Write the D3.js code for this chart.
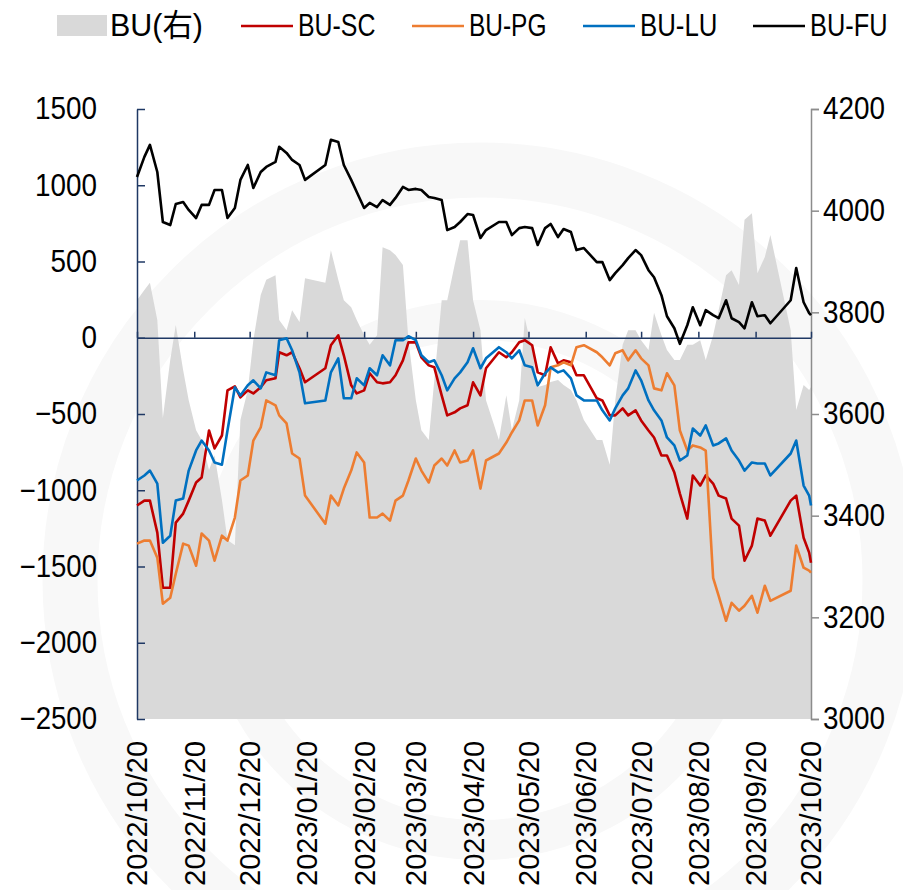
<!DOCTYPE html>
<html><head><meta charset="utf-8">
<script src="https://cdn.jsdelivr.net/npm/d3@7"></script>
<style>body{margin:0;background:#fff}svg{display:block}</style>
</head><body>
<svg id="c" width="903" height="890"></svg>
<script>
const dates = ["2022-10-20","2022-10-24","2022-10-27","2022-10-31","2022-11-03","2022-11-07","2022-11-10","2022-11-14","2022-11-17","2022-11-21","2022-11-24","2022-11-28","2022-12-01","2022-12-05","2022-12-08","2022-12-12","2022-12-15","2022-12-19","2022-12-22","2022-12-26","2022-12-29","2023-01-03","2023-01-05","2023-01-09","2023-01-12","2023-01-16","2023-01-19","2023-01-30","2023-02-02","2023-02-06","2023-02-09","2023-02-13","2023-02-16","2023-02-20","2023-02-23","2023-02-27","2023-03-02","2023-03-06","2023-03-09","2023-03-13","2023-03-16","2023-03-20","2023-03-23","2023-03-27","2023-03-30","2023-04-03","2023-04-06","2023-04-10","2023-04-13","2023-04-17","2023-04-20","2023-04-24","2023-04-27","2023-05-04","2023-05-08","2023-05-11","2023-05-15","2023-05-18","2023-05-22","2023-05-25","2023-05-29","2023-06-01","2023-06-05","2023-06-08","2023-06-12","2023-06-15","2023-06-19","2023-06-26","2023-06-29","2023-07-03","2023-07-06","2023-07-10","2023-07-13","2023-07-17","2023-07-20","2023-07-24","2023-07-27","2023-07-31","2023-08-03","2023-08-07","2023-08-10","2023-08-14","2023-08-17","2023-08-21","2023-08-24","2023-08-28","2023-08-31","2023-09-04","2023-09-07","2023-09-11","2023-09-14","2023-09-18","2023-09-21","2023-09-25","2023-09-28","2023-10-09","2023-10-12","2023-10-16","2023-10-19","2023-10-20"];

// BU price (right axis, area)
const buPrice = [3824,3844,3858,3785,3592,3706,3775,3686,3627,3568,
3549,3490,3519,3431,3352,3342,3588,3647,3745,3834,
3864,3873,3785,3765,3804,3781,3867,3858,3922,3864,
3824,3810,3785,3755,3736,3755,3928,3922,3913,3893,
3745,3627,3568,3549,3667,3824,3824,3893,3942,3942,
3824,3765,3627,3549,3637,3568,3627,3789,3726,3653,
3657,3663,3667,3657,3647,3627,3588,3549,3549,3500,
3627,3736,3765,3765,3745,3726,3799,3755,3726,3706,
3706,3736,3736,3745,3706,3755,3804,3873,3883,3854,
3982,3995,3877,3909,3952,3765,3608,3657,3647,3653];

const buSC = [-1100,-1068,-1068,-1278,-1639,-1639,-1212,-1153,-1068,-949,
-917,-608,-726,-641,-345,-319,-391,-345,-365,-325,
-279,-266,-95,-115,-95,-200,-292,-200,-49,16,
-115,-312,-365,-345,-233,-292,-299,-292,-246,-148,
-30,-30,-128,-181,-194,-378,-509,-489,-463,-443,
-292,-378,-200,-95,-128,-95,-30,-16,-49,-227,
-246,-62,-168,-148,-161,-246,-246,-397,-411,-509,
-509,-463,-509,-476,-542,-608,-654,-772,-772,-884,
-1022,-1186,-903,-969,-903,-956,-1035,-1054,-1186,-1232,
-1462,-1363,-1186,-1199,-1298,-1068,-1035,-1311,-1409,-1475];

const buPG = [-1350,-1330,-1330,-1442,-1744,-1705,-1547,-1350,-1363,-1495,
-1284,-1330,-1462,-1298,-1330,-1179,-936,-903,-674,-588,
-411,-443,-509,-562,-759,-792,-1035,-1219,-1035,-1100,
-989,-871,-752,-818,-1179,-1179,-1153,-1199,-1068,-1035,
-936,-792,-871,-949,-838,-792,-838,-739,-818,-805,
-739,-989,-805,-759,-687,-621,-542,-411,-411,-575,
-443,-194,-181,-161,-181,-62,-49,-95,-128,-181,
-102,-82,-148,-82,-135,-181,-332,-345,-233,-312,
-608,-739,-706,-719,-740,-1574,-1692,-1856,-1738,-1790,
-1757,-1692,-1803,-1626,-1725,-1659,-1363,-1508,-1527,-1541];

const buLU = [-936,-903,-871,-956,-1344,-1298,-1068,-1054,-871,-739,
-674,-739,-818,-832,-608,-325,-378,-312,-279,-332,
-227,-246,-16,-3,-82,-227,-430,-411,-227,-135,
-397,-397,-266,-312,-200,-246,-115,-181,-16,-16,
10,-16,-115,-161,-148,-246,-345,-266,-227,-161,
-69,-200,-135,-62,-95,-135,-82,-181,-194,-312,
-233,-194,-227,-214,-266,-378,-411,-411,-476,-542,
-463,-378,-332,-214,-279,-411,-476,-542,-654,-706,
-805,-772,-595,-641,-575,-706,-693,-660,-739,-805,
-871,-818,-825,-825,-903,-759,-674,-969,-1035,-1100];

const buFU = [1054,1186,1265,1087,759,739,877,890,838,785,
871,871,969,969,785,851,1035,1133,982,1087,
1120,1153,1252,1212,1166,1133,1035,1133,1298,1284,
1133,1035,956,851,884,857,903,871,917,989,
969,976,969,923,917,903,706,726,759,811,
805,654,706,759,759,673,719,726,719,608,
719,746,660,713,693,575,588,496,496,378,
424,476,522,575,542,443,397,279,141,62,
-40,82,200,82,181,148,128,246,128,102,
62,233,141,148,95,246,457,233,161,148];

const leftTicks = [-2500,-2000,-1500,-1000,-500,0,500,1000,1500];
const rightTicks = [3000,3200,3400,3600,3800,4000,4200];
const xTickLabels = ["2022/10/20","2022/11/20","2022/12/20","2023/01/20","2023/02/20","2023/03/20","2023/04/20","2023/05/20","2023/06/20","2023/07/20","2023/08/20","2023/09/20","2023/10/20"];

const lineSeries = [
  {name:"BU-SC", values: buSC, color:"#c00000"},
  {name:"BU-PG", values: buPG, color:"#ed7d31"},
  {name:"BU-LU", values: buLU, color:"#0070c0"},
  {name:"BU-FU", values: buFU, color:"#000000"}
];

const FONT = "'Liberation Sans', Arial, 'Noto Sans CJK SC', sans-serif";
const FS = 31;
function monoWidth(s, fs){let w=0;for(const ch of s){w += (ch.charCodeAt(0)>0x2e80)?fs:fs*0.5;}return w;}
// narrow half-width look (like SimHei latin): scale each text horizontally
function mono(sel, fs){
  sel.attr("font-family",FONT).attr("font-size",fs).attr("fill","#000").each(function(){
    const t=d3.select(this);
    const nat=this.getComputedTextLength();
    const s=monoWidth(t.text(),fs)/nat;
    const xa=+t.attr("x")||0;
    const prev=t.attr("transform")||"";
    t.attr("transform", `${prev} translate(${xa},0) scale(${s},1) translate(${-xa},0)`);
  });
}

const svg = d3.select("#c");
const parse = d3.timeParse("%Y-%m-%d");
const D = dates.map(parse);

const x = d3.scaleTime().domain([parse("2022-10-20"), parse("2023-10-20")]).range([137, 811]);
const yL = d3.scaleLinear().domain([-2500, 1500]).range([719, 109]);
const yR = d3.scaleLinear().domain([3000, 4200]).range([719, 109]);

// faint watermark
const wm = svg.append("g").attr("fill","none").attr("stroke","#f8f8f8");
wm.append("circle").attr("cx",480).attr("cy",580).attr("r",410).attr("stroke-width",55);
wm.append("circle").attr("cx",480).attr("cy",580).attr("r",260).attr("stroke-width",40);

// area BU
svg.append("path")
  .datum(buPrice.map((v,i)=>({d:D[i],v})))
  .attr("fill","#d9d9d9")
  .attr("d", d3.area().x(p=>x(p.d)).y0(yR(3000)).y1(p=>yR(p.v)));

// left axis
const gL = svg.append("g").attr("transform","translate(137,0)")
  .call(d3.axisLeft(yL).tickValues(leftTicks).tickSizeInner(-8).tickSizeOuter(0).tickPadding(40).tickFormat(d=>d<0?"\u2212"+Math.abs(d):String(d)));
gL.select(".domain").attr("stroke","#1f3864").attr("stroke-width",1.5);
gL.selectAll(".tick line").attr("stroke","#1f3864").attr("stroke-width",1.5);
mono(gL.selectAll("text"), FS);

// right axis
const gR = svg.append("g").attr("transform","translate(811,0)")
  .call(d3.axisRight(yR).tickValues(rightTicks).tickSize(8).tickPadding(4).tickFormat(d3.format("d")));
gR.select(".domain").attr("stroke","#8c8c8c").attr("stroke-width",1.5);
gR.selectAll(".tick line").attr("stroke","#8c8c8c").attr("stroke-width",1.5);
mono(gR.selectAll("text"), FS);

// x axis on zero line
const tickDates = xTickLabels.map(s=>d3.timeParse("%Y/%m/%d")(s));
const gX = svg.append("g").attr("transform",`translate(0,${yL(0)})`)
  .call(d3.axisTop(x).tickValues(tickDates).tickSize(6).tickSizeOuter(0).tickFormat(""));
gX.select(".domain").attr("stroke","#1f3864").attr("stroke-width",1.5);
gX.selectAll(".tick line").attr("stroke","#1f3864").attr("stroke-width",1.5);

// x labels (bottom, rotated)
const XFS = 29;
const gXL = svg.append("g");
gXL.selectAll("text").data(xTickLabels).join("text")
  .attr("transform",(s,i)=>`translate(${x(tickDates[i])},741) rotate(-90)`)
  .attr("text-anchor","end").attr("dy","0.36em")
  .text(s=>s);
mono(gXL.selectAll("text"), XFS);

// lines
const line = d3.line().x((v,i)=>x(D[i])).y(v=>yL(v));
svg.append("g").selectAll("path").data(lineSeries).join("path")
  .attr("fill","none").attr("stroke",s=>s.color).attr("stroke-width",2.6).attr("stroke-linejoin","round")
  .attr("d",s=>line(s.values));

// legend
const LF = 31;
const lg = svg.append("g");
lg.append("rect").attr("x",57).attr("y",15).attr("width",50).attr("height",21).attr("fill","#d9d9d9");
lg.append("text").attr("x",110).attr("y",25).attr("dy","0.36em").text("BU(右)");
const legX = [241, 412, 583, 753];
lineSeries.forEach((s,i)=>{
  lg.append("line").attr("x1",legX[i]).attr("x2",legX[i]+52).attr("y1",26).attr("y2",26).attr("stroke",s.color).attr("stroke-width",2.6);
  lg.append("text").attr("x",legX[i]+57).attr("y",25).attr("dy","0.36em").text(s.name);
});
mono(lg.selectAll("text"), LF);
</script>
</body></html>
